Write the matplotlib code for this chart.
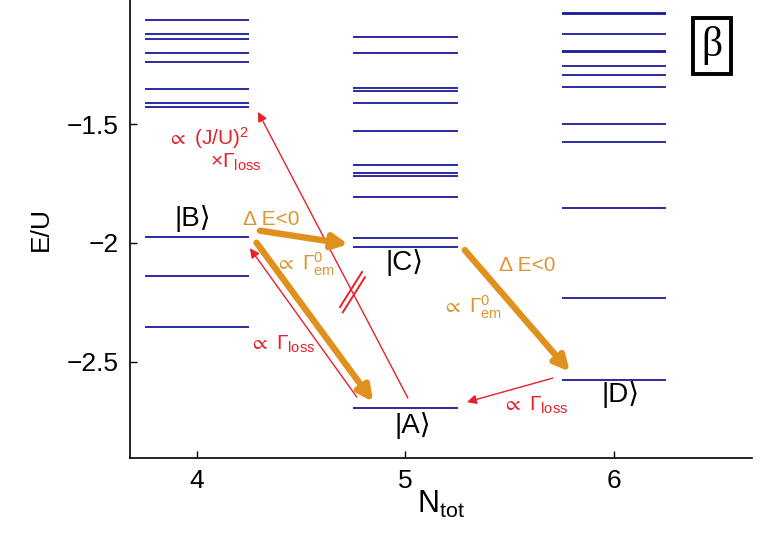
import numpy as np
import matplotlib
matplotlib.use("Agg")
import matplotlib.pyplot as plt

plt.rcParams['font.family'] = ['Liberation Sans', 'DejaVu Sans']
plt.rcParams['mathtext.fontset'] = 'custom'
plt.rcParams['mathtext.rm'] = 'Liberation Sans'
plt.rcParams['mathtext.it'] = 'Liberation Sans:italic'
plt.rcParams['mathtext.fallback'] = 'stixsans'

# energy levels E/U for each particle number
n_tot = [4, 5, 6]
levels_n4 = [-1.059, -1.118, -1.139, -1.200, -1.238, -1.350, -1.411, -1.425,
             -1.973, -2.138, -2.353]
levels_n5 = [-1.132, -1.200, -1.345, -1.357, -1.408, -1.527, -1.671, -1.703,
             -1.716, -1.805, -1.980, -2.016, -2.696]
levels_n6 = [-1.031, -1.034, -1.118, -1.190, -1.193, -1.252, -1.290, -1.343,
             -1.499, -1.575, -1.854, -2.233, -2.578]

# labelled states: name, particle number, energy
state_names = ['A', 'B', 'C', 'D']
state_n = [5, 4, 5, 6]
state_e = [-2.696, -1.973, -2.016, -2.578]

yticks = [-2.5, -2.0, -1.5]
ytick_labels = ['\u22122.5', '\u22122', '\u22121.5']

blue = '#1a1a9c'
red = '#e8202a'
orange = '#e0901c'
orange_txt = '#dc9530'
half_width = 0.25

fig = plt.figure(figsize=(7.63, 5.34), dpi=100)
ax = fig.add_axes([0.1704, 0.1423, 0.815, 0.8577])

for n, levels in zip(n_tot, [levels_n4, levels_n5, levels_n6]):
    ax.hlines(levels, n - half_width, n + half_width, color=blue, lw=1.3)

st = {s: (n, e) for s, n, e in zip(state_names, state_n, state_e)}
nA, eA = st['A']
nB, eB = st['B']
nC, eC = st['C']
nD, eD = st['D']


def arrow(x0, y0, x1, y1, color, lw, ms):
    ax.annotate('', xy=(x1, y1), xytext=(x0, y0),
                arrowprops=dict(arrowstyle='-|>', color=color, lw=lw,
                                mutation_scale=ms, shrinkA=0, shrinkB=0))


# thin red loss arrows
arrow(nA - 0.233, eA + 0.046, nB + 0.254, eB - 0.049, red, 1.0, 14)
top_x0, top_y0 = nA + 0.012, eA + 0.042
top_x1, top_y1 = nB + 0.293, levels_n4[7] - 0.022
arrow(top_x0, top_y0, top_x1, top_y1, red, 1.0, 14)
arrow(nD - 0.293, eD + 0.008, nA + 0.295, eA + 0.025, red, 1.0, 14)

# break marks on the long arrow
t = 0.37
px = top_x0 + t * (top_x1 - top_x0)
py = top_y0 + t * (top_y1 - top_y0)
for k in (-1, 1):
    cx, cy = px + k * -0.0067, py + k * 0.0112
    ax.plot([cx - 0.053, cx + 0.053], [cy - 0.074, cy + 0.074], color=red, lw=1.4)

# thick orange emission arrows
arrow(nB + 0.302, eB + 0.025, nC - 0.274, eC + 0.011, orange, 4.6, 22)
arrow(nB + 0.286, eB - 0.026, nA - 0.154, eA + 0.026, orange, 4.6, 22)
arrow(nC + 0.285, eC - 0.014, nD - 0.211, eD + 0.035, orange, 4.6, 22)

# state labels
ax.text(nB - 0.019, -1.895, '|B\u27e9', fontsize=20, ha='center', va='center')
ax.text(nC - 0.002, -2.084, '|C\u27e9', fontsize=20, ha='center', va='center')
ax.text(nA + 0.036, -2.768, '|A\u27e9', fontsize=20, ha='center', va='center')
ax.text(nD + 0.034, -2.641, '|D\u27e9', fontsize=20, ha='center', va='center')

# rate annotations
ax.text(3.856, -1.557, r'$\propto$ (J/U)$^2$', fontsize=15, color=red,
        ha='left', va='center')
ax.text(4.062, -1.660, r'$\times\Gamma_{\mathrm{loss}}$', fontsize=15, color=red,
        ha='left', va='center')
ax.text(4.355, -1.903, '\u0394 E<0', fontsize=15, color=orange_txt, ha='center', va='center')
ax.text(4.375, -2.091, r'$\propto\ \Gamma^{0}_{\mathrm{em}}$', fontsize=15,
        color=orange_txt, ha='left', va='center')
ax.text(4.408, -2.426, r'$\propto\ \Gamma_{\mathrm{loss}}$', fontsize=15, color=red,
        ha='center', va='center')
ax.text(5.583, -2.097, '\u0394 E<0', fontsize=15, color=orange_txt, ha='center', va='center')
ax.text(5.319, -2.270, r'$\propto\ \Gamma^{0}_{\mathrm{em}}$', fontsize=15,
        color=orange_txt, ha='center', va='center')
ax.text(5.621, -2.684, r'$\propto\ \Gamma_{\mathrm{loss}}$', fontsize=15, color=red,
        ha='center', va='center')

# axes styling
ax.set_xlim(3.679, 6.662)
ax.set_ylim(-2.907, -0.975)
ax.set_xticks(n_tot)
ax.set_xticklabels([str(n) for n in n_tot])
ax.set_yticks(yticks)
ax.set_yticklabels(ytick_labels)
ax.tick_params(direction='in', length=5, width=1, labelsize=19, pad=8)
ax.spines['top'].set_visible(False)
ax.spines['right'].set_visible(False)
ax.spines['left'].set_linewidth(1.2)
ax.spines['bottom'].set_linewidth(1.2)
ax.set_xlabel(r'N$_{\mathrm{tot}}$', fontsize=22, labelpad=-3)
ax.set_ylabel('E/U', fontsize=19, labelpad=10)

fig.text(0.933, 0.914, '\u03b2', fontsize=30, family='Liberation Serif',
         ha='center', va='center',
         bbox=dict(boxstyle='square,pad=0.2', fc='white', ec='black', lw=2.8))

fig.savefig('out.png', dpi=100)
